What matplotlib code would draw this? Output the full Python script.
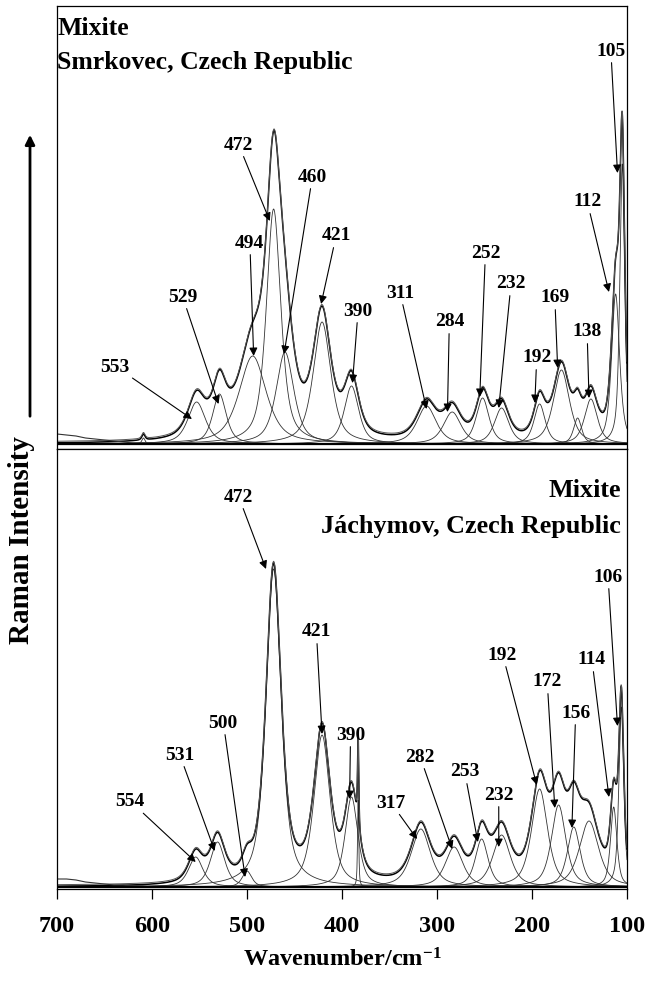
import numpy as np
import matplotlib
matplotlib.use("Agg")
import matplotlib.pyplot as plt

plt.rcParams['font.family'] = ['Liberation Serif', 'DejaVu Serif']
plt.rcParams['mathtext.fontset'] = 'custom'
plt.rcParams['mathtext.rm'] = 'Liberation Serif:bold'
plt.rcParams['mathtext.it'] = 'Liberation Serif:bold'
plt.rcParams['mathtext.bf'] = 'Liberation Serif:bold'

# ---------------- data ----------------
# Top spectrum: Smrkovec (band centre, height, FWHM)
top_centers = [609, 553, 529, 494, 472, 460, 421, 390, 311, 284, 252, 232, 192, 169, 152, 138, 112, 105]
top_heights = [6, 42, 50, 88, 235, 92, 122, 58, 38, 32, 46, 36, 40, 74, 26, 45, 150, 280]
top_widths = [4, 22, 17, 34, 18, 22, 22, 18, 24, 22, 16, 18, 14, 20, 10, 16, 10, 6]
top_bg_wn = [700, 690, 680, 670, 660, 650, 640, 630, 620, 610, 600]
top_bg = [10, 9, 8, 6, 5, 4, 3, 2, 1, 1, 0]

top_labels = ['553', '529', '494', '472', '460', '421', '390', '311', '284', '252',
              '232', '192', '169', '138', '112', '105']
top_text_x = [639, 568, 497, 509, 431, 406, 383, 339, 287, 249, 222, 195, 176, 142, 142, 117]
top_text_y = [78, 148, 202, 300, 268, 209, 134, 152, 123, 192, 161, 87, 147, 113, 243, 394]
top_tip_x = [558, 530, 493, 476, 461, 422, 389, 311, 289, 255, 235, 197, 173, 140, 119, 110]
top_tip_y = [25, 40, 88, 223, 90, 140, 61, 35, 32, 47, 36, 41, 76, 46, 152, 271]

# Bottom spectrum: Jachymov
bot_centers = [554, 531, 500, 472, 421, 390, 383, 317, 282, 253, 232, 192, 172, 156, 140, 114, 106]
bot_heights = [30, 45, 16, 318, 152, 90, 88, 58, 40, 48, 52, 98, 82, 60, 66, 80, 180]
bot_widths = [18, 18, 12, 19, 20, 16, 1.5, 24, 22, 16, 22, 20, 18, 16, 24, 8, 6]
bot_bg_wn = [700, 690, 680, 670, 660, 650, 640, 630, 620, 610, 600]
bot_bg = [8, 8, 7, 5, 4, 3, 2, 2, 1, 1, 0]

bot_labels = ['554', '531', '500', '472', '421', '390', '317', '282', '253', '232',
              '192', '172', '156', '114', '106']
bot_text_x = [623, 571, 525, 509, 427, 391, 349, 318, 271, 235, 231, 184, 154, 137, 120]
bot_text_y = [86, 133, 165, 391, 256, 153, 85, 131, 116, 93, 233, 206, 175, 228, 311]
bot_tip_x = [554, 534, 502, 480, 421, 392, 321, 284, 257, 235, 195, 176, 158, 119, 110]
bot_tip_y = [25, 36, 10, 318, 153, 88, 48, 38, 45, 40, 102, 79, 59, 90, 161]

x_ticks = [700, 600, 500, 400, 300, 200, 100]

# ---------------- helpers ----------------
wn = np.linspace(700, 100, 3000)


def band(x, c, h, w, eta=0.65):
    hw = w / 2.0
    lor = 1.0 / (1.0 + ((x - c) / hw) ** 2)
    gau = np.exp(-np.log(2) * ((x - c) / hw) ** 2)
    return h * (eta * lor + (1 - eta) * gau)


fig = plt.figure(figsize=(6.47, 9.87), dpi=100)
W, H = 647.0, 987.0
ax_top = fig.add_axes([57 / W, (H - 450) / H, 570 / W, 443 / H])
ax_bot = fig.add_axes([57 / W, (H - 890) / H, 570 / W, 440 / H])


def draw_panel(ax, centers, heights, widths, bg_wn, bg, labels, tx, ty, px, py, ylim):
    total = np.zeros_like(wn)
    for c, h, w in zip(centers, heights, widths):
        comp = band(wn, c, h, w)
        total += comp
        ax.plot(wn, comp, color='#333333', lw=0.6)
    ax.plot(wn, total, color='black', lw=1.1)
    ax.plot(wn, total + 1.5, color='#555555', lw=0.7)
    ax.plot(bg_wn, bg, color='#333333', lw=0.8)
    ax.axhline(0, color='black', lw=1.6)
    for lab, x0, y0, x1, y1 in zip(labels, tx, ty, px, py):
        ax.annotate(lab, xy=(x1, y1), xytext=(x0, y0), ha='center', va='center',
                    fontsize=14, fontweight='bold',
                    arrowprops=dict(arrowstyle='-|>', color='black', lw=0.8,
                                    mutation_scale=12, shrinkA=1, shrinkB=0))
    ax.set_xlim(700, 100)
    ax.set_ylim(*ylim)
    ax.set_yticks([])
    for s in ax.spines.values():
        s.set_linewidth(0.9)


draw_panel(ax_top, top_centers, top_heights, top_widths, top_bg_wn, top_bg,
           top_labels, top_text_x, top_text_y, top_tip_x, top_tip_y, (-5, 438))
draw_panel(ax_bot, bot_centers, bot_heights, bot_widths, bot_bg_wn, bot_bg,
           bot_labels, bot_text_x, bot_text_y, bot_tip_x, bot_tip_y, (-2, 438))

ax_top.set_xticks([])
ax_bot.set_xticks(x_ticks)
ax_bot.set_xticklabels([str(t) for t in x_ticks], fontsize=17.5, fontweight='bold')
ax_bot.tick_params(axis='x', direction='out', length=7, width=0.9, pad=12)
ax_bot.set_xlabel('Wavenumber/cm$^{-1}$', fontsize=17.5, fontweight='bold', labelpad=8)

# panel titles
ax_top.text(0.0, 0.978, 'Mixite', transform=ax_top.transAxes, ha='left', va='top',
            fontsize=18.5, fontweight='bold')
ax_top.text(0.0, 0.900, 'Smrkovec, Czech Republic', transform=ax_top.transAxes,
            ha='left', va='top', fontsize=18.5, fontweight='bold')
ax_bot.text(0.99, 0.935, 'Mixite', transform=ax_bot.transAxes, ha='right', va='top',
            fontsize=18.8, fontweight='bold')
ax_bot.text(0.99, 0.852, 'Jáchymov, Czech Republic', transform=ax_bot.transAxes,
            ha='right', va='top', fontsize=18.8, fontweight='bold')

# y label with arrow
fig.text(22 / W, 1 - 540 / H, 'Raman Intensity', rotation=90, ha='center', va='center',
         fontsize=21, fontweight='bold')
fig.add_artist(matplotlib.patches.FancyArrowPatch(
    (30 / W, 1 - 420 / H), (30 / W, 1 - 133 / H), transform=fig.transFigure,
    arrowstyle='-|>', mutation_scale=14, lw=2.0, color='black'))

fig.savefig('out.png', dpi=100)
